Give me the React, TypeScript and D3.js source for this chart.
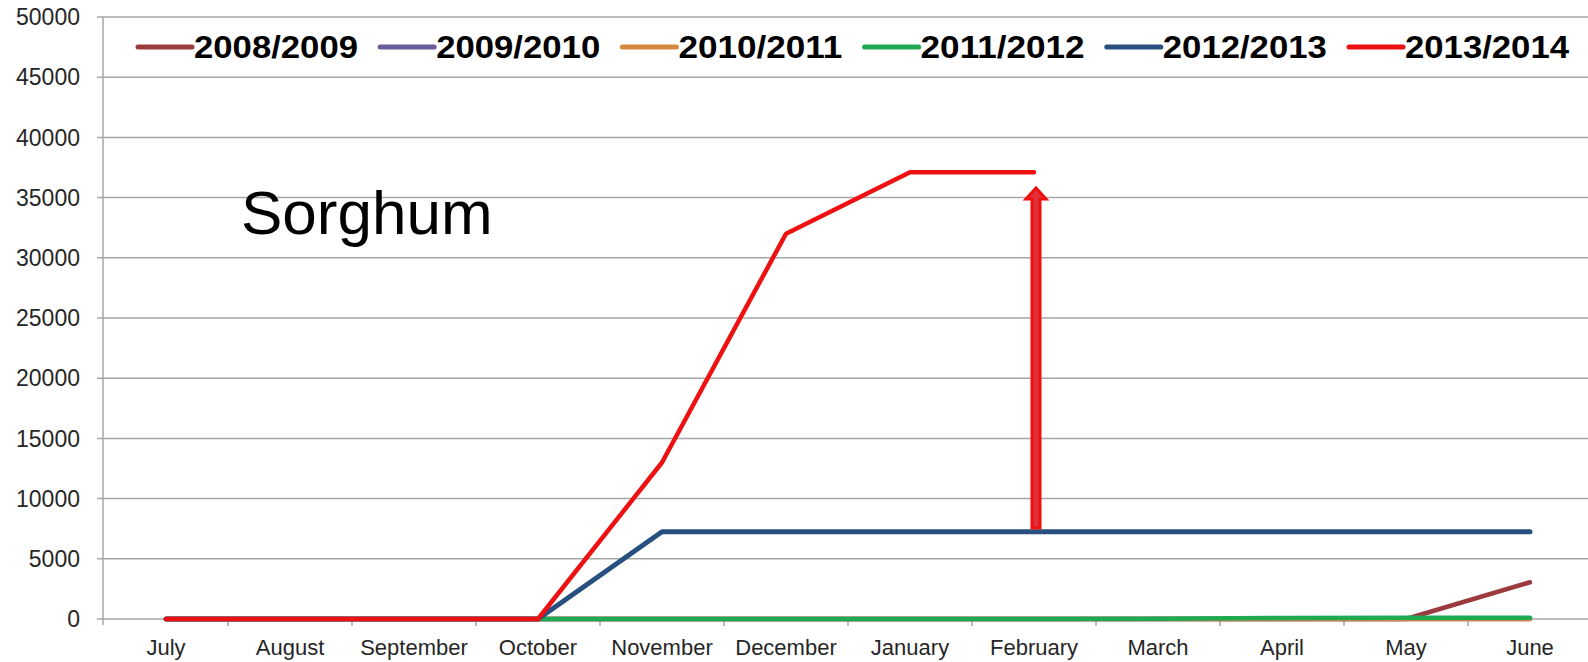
import React from "react";
import * as d3 from "d3";

const months = ["July", "August", "September", "October", "November", "December", "January", "February", "March", "April", "May", "June"];
const seriesNames = ["2008/2009", "2009/2010", "2010/2011", "2011/2012", "2012/2013", "2013/2014"];
const seriesColors = ["#9c3b3d", "#6b5b9b", "#d48a3e", "#1fa952", "#274f80", "#ee1111"];
const s2008: (number | null)[] = [0, 0, 0, 0, 0, 0, 0, 0, 0, 0, 0, 3050];
const s2009: (number | null)[] = [0, 0, 0, 0, 0, 0, 0, 0, 0, 0, 0, 0];
const s2010: (number | null)[] = [0, 0, 0, 0, 0, 0, 0, 0, 0, 0, 0, 0];
const s2011: (number | null)[] = [null, null, null, 0, 0, 0, 0, 0, 30, 80, 110, 110];
const s2012: (number | null)[] = [0, 0, 0, 0, 7250, 7250, 7250, 7250, 7250, 7250, 7250, 7250];
const s2013: (number | null)[] = [0, 0, 0, 0, 13000, 32000, 37100, 37100, null, null, null, null];
const seriesValues = [s2008, s2009, s2010, s2011, s2012, s2013];
const yTicks = [0, 5000, 10000, 15000, 20000, 25000, 30000, 35000, 40000, 45000, 50000];
const arrowMonth = "February";
const arrowFrom = 7550;
const arrowTo = 35800;
const chartLabel = "Sorghum";

const W = 1588;
const H = 662;

export default function App() {
  const x = d3.scaleBand<string>().domain(months).range([104, 1592]);
  const bw = x.bandwidth();
  const cx = (m: string) => (x(m) as number) + bw / 2;
  const y = d3.scaleLinear().domain([0, 50000]).range([619, 17]);

  const line = d3
    .line<number | null>()
    .defined((d) => d !== null)
    .x((_, i) => cx(months[i]))
    .y((d) => y(d as number));

  const ax = cx(arrowMonth) + 2;
  const yb = y(arrowFrom);
  const yt = y(arrowTo);
  const shaftHalf = 4;
  const headHalf = 10;
  const headH = 11;
  const arrowPts = [
    [ax - shaftHalf, yb],
    [ax - shaftHalf, yt + headH],
    [ax - headHalf, yt + headH],
    [ax, yt],
    [ax + headHalf, yt + headH],
    [ax + shaftHalf, yt + headH],
    [ax + shaftHalf, yb],
  ]
    .map((p) => p.join(","))
    .join(" ");

  const font = "'Liberation Sans', Arial, sans-serif";

  return (
    <svg width={W} height={H} style={{ position: "absolute", left: 0, top: 0, background: "#fff" }} fontFamily={font}>
      {/* gridlines */}
      {yTicks.map((t) => (
        <line key={"g" + t} x1={97} x2={W} y1={y(t)} y2={y(t)} stroke="#a6a6a6" strokeWidth={1.5} />
      ))}
      {/* y axis */}
      <line x1={103} x2={103} y1={y(50000)} y2={625} stroke="#a6a6a6" strokeWidth={1.5} />
      {yTicks.map((t) => (
        <text key={"yl" + t} x={80} y={y(t)} dy="0.36em" textAnchor="end" fontSize={23} fill="#262626">
          {t}
        </text>
      ))}
      {/* x ticks */}
      {months.map((m, i) =>
        i === 0 ? null : (
          <line key={"xt" + m} x1={x(m) as number} x2={x(m) as number} y1={619} y2={626} stroke="#a6a6a6" strokeWidth={1.5} />
        )
      )}
      {months.map((m) => (
        <text key={"xl" + m} x={cx(m)} y={655} textAnchor="middle" fontSize={22} fill="#262626">
          {m}
        </text>
      ))}
      {/* series */}
      {seriesValues.map((vals, si) => (
        <path
          key={"s" + si}
          d={line(vals) || ""}
          fill="none"
          stroke={seriesColors[si]}
          strokeWidth={si === 4 ? 5 : 4.5}
          strokeLinejoin="round"
          strokeLinecap="round"
        />
      ))}
      {/* arrow */}
      <polygon points={arrowPts} fill="#e0303c" stroke="#ee0f0f" strokeWidth={3} strokeLinejoin="miter" />
      {/* label */}
      <text x={241} y={234} fontSize={62} fill="#000">
        {chartLabel}
      </text>
      {/* legend */}
      {seriesNames.map((n, i) => {
        const lx = 138 + i * 242.2;
        return (
          <g key={"lg" + n}>
            <line x1={lx} x2={lx + 54} y1={47} y2={47} stroke={seriesColors[i]} strokeWidth={5} strokeLinecap="round" />
            <text x={lx + 56} y={57.5} fontSize={31} fontWeight="bold" fill="#000" textLength={164} lengthAdjust="spacingAndGlyphs">
              {n}
            </text>
          </g>
        );
      })}
    </svg>
  );
}
